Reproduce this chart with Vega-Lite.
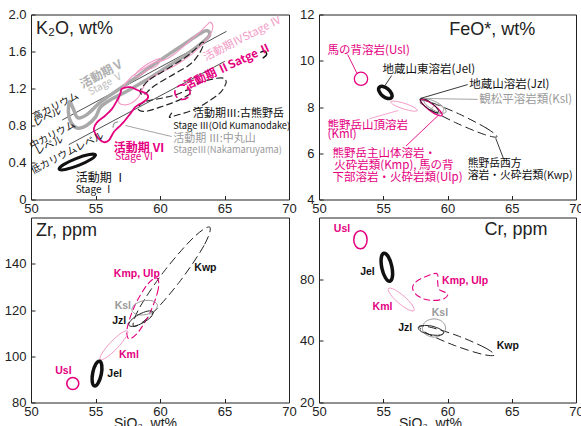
{
"$schema": "https://vega.github.io/schema/vega-lite/v6.json",
"background": "white",
"padding": {"left": 3, "top": 7.5, "right": 0, "bottom": 0},
"config": {
  "view": {"stroke": "#222", "strokeWidth": 1},
  "axis": {"domain": false, "grid": false, "ticks": true, "tickSize": -4, "tickColor": "#222", "tickWidth": 1, "labelFont": "Liberation Sans", "labelFontSize": 13, "labelColor": "#222", "titleFont": "Liberation Sans", "titleFontSize": 14, "titleFontWeight": "normal", "titleColor": "#222"},
  "axisX": {"labelPadding": 7, "labelFlush": false},
  "axisY": {"labelPadding": 9},
  "line": {"strokeCap": "round", "strokeJoin": "round"},
  "text": {"font": "Noto Sans CJK JP"}
},
"columns": 2,
"spacing": {"row": 18, "column": 30},
"bounds": "flush",
"concat": [
{
"width": 258, "height": 185,
"encoding": {
  "x": {"field": "x", "type": "quantitative", "scale": {"domain": [50, 70], "nice": false, "zero": false}, "axis": {"title": null, "values": [50, 55, 60, 65, 70]}},
  "y": {"field": "y", "type": "quantitative", "scale": {"domain": [0, 2], "nice": false, "zero": false}, "axis": {"title": null, "values": [0, 0.4, 0.8, 1.2, 1.6, 2], "labelExpr": "datum.value == 0 ? '0' : format(datum.value, '.1f')"}}
},
"layer": [
{"data": {"values": [{"s":"A","i":0,"x":52.44,"y":0.861},{"s":"A","i":1,"x":65.13,"y":1.816},{"s":"B","i":0,"x":52.95,"y":0.595},{"s":"B","i":1,"x":65.0,"y":1.492}]},
 "mark": {"type": "line", "color": "#222", "strokeWidth": 0.8},
 "encoding": {"detail": {"field": "s", "type": "nominal"}, "order": {"field": "i", "type": "quantitative"}}},
{"data": {"values": [
 {"s":"V","i":0,"x":53.00,"y":1.059},{"s":"V","i":1,"x":53.28,"y":0.980},{"s":"V","i":2,"x":53.64,"y":0.883},{"s":"V","i":3,"x":54.41,"y":0.926},{"s":"V","i":4,"x":55.38,"y":1.052},{"s":"V","i":5,"x":56.67,"y":1.178},{"s":"V","i":6,"x":57.95,"y":1.301},{"s":"V","i":7,"x":59.23,"y":1.431},{"s":"V","i":8,"x":60.51,"y":1.553},{"s":"V","i":9,"x":61.79,"y":1.672},{"s":"V","i":10,"x":63.08,"y":1.791},{"s":"V","i":11,"x":63.64,"y":1.827},{"s":"V","i":12,"x":63.85,"y":1.780},{"s":"V","i":13,"x":63.33,"y":1.701},{"s":"V","i":14,"x":62.05,"y":1.568},{"s":"V","i":15,"x":60.51,"y":1.431},{"s":"V","i":16,"x":58.97,"y":1.294},{"s":"V","i":17,"x":57.44,"y":1.171},{"s":"V","i":18,"x":56.15,"y":1.077},{"s":"V","i":19,"x":55.38,"y":0.998},{"s":"V","i":20,"x":55.00,"y":0.890},{"s":"V","i":21,"x":54.31,"y":0.800},{"s":"V","i":22,"x":53.64,"y":0.771},{"s":"V","i":23,"x":53.13,"y":0.825},{"s":"V","i":24,"x":52.90,"y":0.944}]},
 "mark": {"type": "line", "interpolate": "cardinal-closed", "color": "#a9a9a9", "strokeWidth": 3.5},
 "encoding": {"detail": {"field": "s", "type": "nominal"}, "order": {"field": "i", "type": "quantitative"}}},
{"data": {"values": [
 {"s":"IV1","i":0,"x":56.79,"y":1.063},{"s":"IV1","i":1,"x":57.05,"y":1.196},{"s":"IV1","i":2,"x":57.82,"y":1.330},{"s":"IV1","i":3,"x":58.72,"y":1.413},{"s":"IV1","i":4,"x":59.62,"y":1.485},{"s":"IV1","i":5,"x":60.38,"y":1.510},{"s":"IV1","i":6,"x":61.15,"y":1.575},{"s":"IV1","i":7,"x":62.05,"y":1.683},{"s":"IV1","i":8,"x":63.08,"y":1.809},{"s":"IV1","i":9,"x":63.72,"y":1.899},{"s":"IV1","i":10,"x":63.92,"y":1.917},{"s":"IV1","i":11,"x":64.10,"y":1.863},{"s":"IV1","i":12,"x":63.85,"y":1.773},{"s":"IV1","i":13,"x":63.21,"y":1.665},{"s":"IV1","i":14,"x":62.56,"y":1.582},{"s":"IV1","i":15,"x":61.79,"y":1.503},{"s":"IV1","i":16,"x":61.03,"y":1.438},{"s":"IV1","i":17,"x":60.26,"y":1.387},{"s":"IV1","i":18,"x":59.62,"y":1.341},{"s":"IV1","i":19,"x":59.10,"y":1.294},{"s":"IV1","i":20,"x":58.72,"y":1.214},{"s":"IV1","i":21,"x":58.33,"y":1.106},{"s":"IV1","i":22,"x":57.69,"y":1.034},{"s":"IV1","i":23,"x":57.05,"y":1.027},
 {"s":"IV2","i":0,"x":58.08,"y":1.351},{"s":"IV2","i":1,"x":58.97,"y":1.459},{"s":"IV2","i":2,"x":60.0,"y":1.524},{"s":"IV2","i":3,"x":59.74,"y":1.445},{"s":"IV2","i":4,"x":58.97,"y":1.395},{"s":"IV2","i":5,"x":58.33,"y":1.330}]},
 "mark": {"type": "line", "interpolate": "cardinal-closed", "color": "#f29ac6", "strokeWidth": 1.1},
 "encoding": {"detail": {"field": "s", "type": "nominal"}, "order": {"field": "i", "type": "quantitative"}}},
{"data": {"values": [
 {"s":"IIIa","i":0,"x":58.59,"y":1.207},{"s":"IIIa","i":1,"x":59.23,"y":1.301},{"s":"IIIa","i":2,"x":60.26,"y":1.387},{"s":"IIIa","i":3,"x":61.92,"y":1.532},{"s":"IIIa","i":4,"x":62.82,"y":1.636},{"s":"IIIa","i":5,"x":63.23,"y":1.697},{"s":"IIIa","i":6,"x":63.39,"y":1.683},{"s":"IIIa","i":7,"x":63.03,"y":1.575},{"s":"IIIa","i":8,"x":62.31,"y":1.459},{"s":"IIIa","i":9,"x":60.77,"y":1.330},{"s":"IIIa","i":10,"x":59.49,"y":1.222},{"s":"IIIa","i":11,"x":58.77,"y":1.135},{"s":"IIIa","i":12,"x":58.46,"y":1.160},
 {"s":"IIIb","i":0,"x":58.33,"y":1.005},{"s":"IIIb","i":1,"x":58.97,"y":1.063},{"s":"IIIb","i":2,"x":60.26,"y":1.099},{"s":"IIIb","i":3,"x":61.28,"y":1.135},{"s":"IIIb","i":4,"x":62.18,"y":1.186},{"s":"IIIb","i":5,"x":62.44,"y":1.160},{"s":"IIIb","i":6,"x":61.92,"y":1.106},{"s":"IIIb","i":7,"x":61.03,"y":1.049},{"s":"IIIb","i":8,"x":60.0,"y":0.998},{"s":"IIIb","i":9,"x":58.97,"y":0.955},{"s":"IIIb","i":10,"x":58.41,"y":0.962}]},
 "mark": {"type": "line", "interpolate": "cardinal-closed", "color": "#222", "strokeWidth": 1.2, "strokeDash": [6, 4]},
 "encoding": {"detail": {"field": "s", "type": "nominal"}, "order": {"field": "i", "type": "quantitative"}}},
{"data": {"values": [
 {"s":"IIIc","i":0,"x":60.90,"y":0.933},{"s":"IIIc","i":1,"x":60.72,"y":0.890},{"s":"IIIc","i":2,"x":61.15,"y":0.905},{"s":"IIIc","i":3,"x":62.82,"y":0.984},{"s":"IIIc","i":4,"x":64.49,"y":1.132},{"s":"IIIc","i":5,"x":65.0,"y":1.222},{"s":"IIIc","i":6,"x":65.13,"y":1.279},{"s":"IIIc","i":7,"x":64.74,"y":1.315},{"s":"IIIc","i":8,"x":63.59,"y":1.286},{"s":"IIIc","i":9,"x":62.69,"y":1.243}]},
 "mark": {"type": "line", "interpolate": "cardinal", "color": "#222", "strokeWidth": 1.2, "strokeDash": [6, 4]},
 "encoding": {"detail": {"field": "s", "type": "nominal"}, "order": {"field": "i", "type": "quantitative"}}},
{"data": {"values": [
 {"s":"II","i":0,"x":62.33,"y":1.160},{"s":"II","i":1,"x":62.157,"y":1.104},{"s":"II","i":2,"x":61.74,"y":1.081},{"s":"II","i":3,"x":61.323,"y":1.104},{"s":"II","i":4,"x":61.15,"y":1.160},{"s":"II","i":5,"x":61.323,"y":1.216},{"s":"II","i":6,"x":61.74,"y":1.239},{"s":"II","i":7,"x":62.157,"y":1.216}]},
 "mark": {"type": "line", "interpolate": "cardinal-closed", "color": "#e4007f", "strokeWidth": 1.6, "strokeDash": [7, 5]},
 "encoding": {"detail": {"field": "s", "type": "nominal"}, "order": {"field": "i", "type": "quantitative"}}},
{"data": {"values": [
 {"s":"VI","i":0,"x":57.05,"y":1.196},{"s":"VI","i":1,"x":57.69,"y":1.214},{"s":"VI","i":2,"x":58.33,"y":1.178},{"s":"VI","i":3,"x":58.97,"y":1.142},{"s":"VI","i":4,"x":59.03,"y":1.088},{"s":"VI","i":5,"x":58.46,"y":1.034},{"s":"VI","i":6,"x":58.08,"y":0.998},{"s":"VI","i":7,"x":57.69,"y":0.926},{"s":"VI","i":8,"x":57.18,"y":0.836},{"s":"VI","i":9,"x":56.79,"y":0.782},{"s":"VI","i":10,"x":56.41,"y":0.728},{"s":"VI","i":11,"x":56.03,"y":0.638},{"s":"VI","i":12,"x":55.64,"y":0.620},{"s":"VI","i":13,"x":55.26,"y":0.656},{"s":"VI","i":14,"x":55.00,"y":0.710},{"s":"VI","i":15,"x":54.87,"y":0.764},{"s":"VI","i":16,"x":55.13,"y":0.836},{"s":"VI","i":17,"x":55.77,"y":0.908},{"s":"VI","i":18,"x":56.28,"y":0.980},{"s":"VI","i":19,"x":56.67,"y":1.070},{"s":"VI","i":20,"x":56.92,"y":1.142}]},
 "mark": {"type": "line", "interpolate": "cardinal-closed", "color": "#e4007f", "strokeWidth": 1.8},
 "encoding": {"detail": {"field": "s", "type": "nominal"}, "order": {"field": "i", "type": "quantitative"}}},
{"data": {"values": [
 {"s":"I","i":0,"x":55.00,"y":0.483},{"s":"I","i":1,"x":54.66,"y":0.434},{"s":"I","i":2,"x":53.69,"y":0.368},{"s":"I","i":3,"x":52.66,"y":0.324},{"s":"I","i":4,"x":52.18,"y":0.328},{"s":"I","i":5,"x":52.52,"y":0.377},{"s":"I","i":6,"x":53.49,"y":0.443},{"s":"I","i":7,"x":54.52,"y":0.486}]},
 "mark": {"type": "line", "interpolate": "cardinal-closed", "color": "#111", "strokeWidth": 3},
 "encoding": {"detail": {"field": "s", "type": "nominal"}, "order": {"field": "i", "type": "quantitative"}}},
{"data": {"values": [
 {"s":"arc","i":0,"x":56.36,"y":0.782},{"s":"arc","i":1,"x":56.46,"y":0.825},{"s":"arc","i":2,"x":56.72,"y":0.840}]},
 "mark": {"type": "line", "interpolate": "cardinal", "color": "#9a9a9a", "strokeWidth": 1.3},
 "encoding": {"detail": {"field": "s", "type": "nominal"}, "order": {"field": "i", "type": "quantitative"}}},
{"data": {"values": [
 {"s":"tsu","i":0,"x":67.82,"y":1.593},{"s":"tsu","i":1,"x":68.15,"y":1.604},{"s":"tsu","i":2,"x":68.26,"y":1.564},{"s":"tsu","i":3,"x":68.0,"y":1.532}]},
 "mark": {"type": "line", "interpolate": "cardinal", "color": "#111", "strokeWidth": 1.5},
 "encoding": {"detail": {"field": "s", "type": "nominal"}, "order": {"field": "i", "type": "quantitative"}}},
{"data": {"values": [{"x":57.31,"y":0.80,"x2":60.90,"y2":0.681}]},
 "mark": {"type": "rule", "color": "#9a9a9a", "strokeWidth": 0.9},
 "encoding": {"x2": {"field": "x2"}, "y2": {"field": "y2"}}},
{"data": {"values": [{"t":"活動期 Ⅰ","x":53.46,"y":0.234}]},
 "mark": {"type": "text", "align": "left", "baseline": "middle", "fontSize": 12, "color": "#111"},
 "encoding": {"text": {"field": "t", "type": "nominal"}}},
{"data": {"values": [{"t":"Stage Ⅰ","x":53.46,"y":0.108}]},
 "mark": {"type": "text", "align": "left", "baseline": "middle", "fontSize": 10, "color": "#111"},
 "encoding": {"text": {"field": "t", "type": "nominal"}}},
{"data": {"values": [{"t":"Stage Ⅲ(Old Kumanodake)","x":61.03,"y":0.80}]},
 "mark": {"type": "text", "align": "left", "baseline": "middle", "fontSize": 9.3, "color": "#111"},
 "encoding": {"text": {"field": "t", "type": "nominal"}}},
{"data": {"values": [{"t":"活動期Ⅲ:古熊野岳","x":62.56,"y":0.919}]},
 "mark": {"type": "text", "align": "left", "baseline": "middle", "fontSize": 11, "color": "#111"},
 "encoding": {"text": {"field": "t", "type": "nominal"}}},
{"data": {"values": [{"t":"活動期 Ⅲ:中丸山","x":61.03,"y":0.649}]},
 "mark": {"type": "text", "align": "left", "baseline": "middle", "fontSize": 11, "color": "#9a9a9a"},
 "encoding": {"text": {"field": "t", "type": "nominal"}}},
{"data": {"values": [{"t":"StageⅢ(Nakamaruyama)","x":61.03,"y":0.530}]},
 "mark": {"type": "text", "align": "left", "baseline": "middle", "fontSize": 9.3, "color": "#9a9a9a"},
 "encoding": {"text": {"field": "t", "type": "nominal"}}},
{"data": {"values": [{"t":"活動期 Ⅵ","x":56.41,"y":0.559}]},
 "mark": {"type": "text", "align": "left", "baseline": "middle", "fontSize": 12, "fontWeight": "bold", "color": "#e4007f"},
 "encoding": {"text": {"field": "t", "type": "nominal"}}},
{"data": {"values": [{"t":"Stage Ⅵ","x":56.54,"y":0.458}]},
 "mark": {"type": "text", "align": "left", "baseline": "middle", "fontSize": 10, "color": "#e4007f"},
 "encoding": {"text": {"field": "t", "type": "nominal"}}},
{"data": {"values": [{"t":"高カリウム","x":51.92,"y":1.005},{"t":"レベル","x":51.28,"y":0.890},{"t":"中カリウム","x":51.67,"y":0.692},{"t":"レベル","x":51.41,"y":0.584},{"t":"低カリウムレベル","x":52.82,"y":0.501}]},
 "mark": {"type": "text", "align": "center", "baseline": "middle", "fontSize": 10, "angle": -27, "color": "#111"},
 "encoding": {"text": {"field": "t", "type": "nominal"}}},
{"data": {"values": [{"t":"活動期Ⅴ","x":55.5,"y":1.36}]},
 "mark": {"type": "text", "align": "center", "baseline": "middle", "fontSize": 12, "fontWeight": "bold", "angle": -28, "color": "#b0b0b0"},
 "encoding": {"text": {"field": "t", "type": "nominal"}}},
{"data": {"values": [{"t":"Stage Ⅴ","x":55.8,"y":1.25}]},
 "mark": {"type": "text", "align": "center", "baseline": "middle", "fontSize": 10, "angle": -28, "color": "#bdbdbd"},
 "encoding": {"text": {"field": "t", "type": "nominal"}}},
{"data": {"values": [{"t":"活動期ⅣStage Ⅳ","x":66.41,"y":1.737}]},
 "mark": {"type": "text", "align": "center", "baseline": "middle", "fontSize": 11, "angle": -27, "color": "#f29ac6"},
 "encoding": {"text": {"field": "t", "type": "nominal"}}},
{"data": {"values": [{"t":"活動期 ⅡSatge Ⅱ","x":65.26,"y":1.431}]},
 "mark": {"type": "text", "align": "center", "baseline": "middle", "fontSize": 11.5, "fontWeight": "bold", "angle": -25, "color": "#e4007f"},
 "encoding": {"text": {"field": "t", "type": "nominal"}}},
{"data": {"values": [{"t":"K₂O, wt%","x":50.38,"y":1.791}]},
 "mark": {"type": "text", "align": "left", "baseline": "alphabetic", "font": "Liberation Sans", "fontSize": 18, "color": "#222"},
 "encoding": {"text": {"field": "t", "type": "nominal"}}}
]
},
{
"width": 257, "height": 185,
"encoding": {
  "x": {"field": "x", "type": "quantitative", "scale": {"domain": [50, 70], "nice": false, "zero": false}, "axis": {"title": null, "values": [50, 55, 60, 65, 70]}},
  "y": {"field": "y", "type": "quantitative", "scale": {"domain": [4, 12], "nice": false, "zero": false}, "axis": {"title": null, "values": [4, 6, 8, 10, 12]}}
},
"layer": [
{"data": {"values": [
 {"s":"Kwp","i":0,"x":63.852,"y":6.712},{"s":"Kwp","i":1,"x":63.064,"y":7.073},{"s":"Kwp","i":2,"x":60.944,"y":7.687},{"s":"Kwp","i":3,"x":58.734,"y":8.195},{"s":"Kwp","i":4,"x":57.730,"y":8.297},{"s":"Kwp","i":5,"x":58.519,"y":7.935},{"s":"Kwp","i":6,"x":60.638,"y":7.321},{"s":"Kwp","i":7,"x":62.848,"y":6.814}]},
 "mark": {"type": "line", "interpolate": "cardinal-closed", "color": "#222", "strokeWidth": 1, "strokeDash": [8, 5]},
 "encoding": {"detail": {"field": "s", "type": "nominal"}, "order": {"field": "i", "type": "quantitative"}}},
{"data": {"values": [
 {"s":"Kml","i":0,"x":57.652,"y":7.850},{"s":"Kml","i":1,"x":57.396,"y":7.987},{"s":"Kml","i":2,"x":56.682,"y":8.153},{"s":"Kml","i":3,"x":55.930,"y":8.251},{"s":"Kml","i":4,"x":55.577,"y":8.225},{"s":"Kml","i":5,"x":55.834,"y":8.088},{"s":"Kml","i":6,"x":56.547,"y":7.922},{"s":"Kml","i":7,"x":57.300,"y":7.824}]},
 "mark": {"type": "line", "interpolate": "cardinal-closed", "color": "#f29ac6", "strokeWidth": 1},
 "encoding": {"detail": {"field": "s", "type": "nominal"}, "order": {"field": "i", "type": "quantitative"}}},
{"data": {"values": [
 {"s":"Ksl1","i":0,"x":59.883,"y":7.778},{"s":"Ksl1","i":1,"x":59.743,"y":7.967},{"s":"Ksl1","i":2,"x":59.183,"y":8.196},{"s":"Ksl1","i":3,"x":58.532,"y":8.333},{"s":"Ksl1","i":4,"x":58.171,"y":8.297},{"s":"Ksl1","i":5,"x":58.311,"y":8.108},{"s":"Ksl1","i":6,"x":58.872,"y":7.879},{"s":"Ksl1","i":7,"x":59.523,"y":7.742},
 {"s":"Ksl2","i":0,"x":59.702,"y":7.893},{"s":"Ksl2","i":1,"x":59.564,"y":7.751},{"s":"Ksl2","i":2,"x":59.235,"y":7.692},{"s":"Ksl2","i":3,"x":58.905,"y":7.751},{"s":"Ksl2","i":4,"x":58.768,"y":7.893},{"s":"Ksl2","i":5,"x":58.905,"y":8.036},{"s":"Ksl2","i":6,"x":59.235,"y":8.095},{"s":"Ksl2","i":7,"x":59.564,"y":8.036}]},
 "mark": {"type": "line", "interpolate": "cardinal-closed", "color": "#9a9a9a", "strokeWidth": 1},
 "encoding": {"detail": {"field": "s", "type": "nominal"}, "order": {"field": "i", "type": "quantitative"}}},
{"data": {"values": [
 {"s":"Kmp","i":0,"x":59.572,"y":7.634},{"s":"Kmp","i":1,"x":59.440,"y":7.817},{"s":"Kmp","i":2,"x":58.898,"y":8.095},{"s":"Kmp","i":3,"x":58.265,"y":8.305},{"s":"Kmp","i":4,"x":57.912,"y":8.326},{"s":"Kmp","i":5,"x":58.044,"y":8.143},{"s":"Kmp","i":6,"x":58.586,"y":7.865},{"s":"Kmp","i":7,"x":59.219,"y":7.654},
 {"s":"Usl","i":0,"x":53.787,"y":9.219},{"s":"Usl","i":1,"x":53.635,"y":9.015},{"s":"Usl","i":2,"x":53.268,"y":8.931},{"s":"Usl","i":3,"x":52.901,"y":9.015},{"s":"Usl","i":4,"x":52.749,"y":9.219},{"s":"Usl","i":5,"x":52.901,"y":9.423},{"s":"Usl","i":6,"x":53.268,"y":9.507},{"s":"Usl","i":7,"x":53.635,"y":9.423}]},
 "mark": {"type": "line", "interpolate": "cardinal-closed", "color": "#e4007f", "strokeWidth": 1.3},
 "encoding": {"detail": {"field": "s", "type": "nominal"}, "order": {"field": "i", "type": "quantitative"}}},
{"data": {"values": [
 {"s":"Jzl","i":0,"x":59.287,"y":7.778},{"s":"Jzl","i":1,"x":59.191,"y":7.944},{"s":"Jzl","i":2,"x":58.742,"y":8.184},{"s":"Jzl","i":3,"x":58.202,"y":8.352},{"s":"Jzl","i":4,"x":57.886,"y":8.354},{"s":"Jzl","i":5,"x":57.982,"y":8.189},{"s":"Jzl","i":6,"x":58.431,"y":7.951},{"s":"Jzl","i":7,"x":58.970,"y":7.781}]},
 "mark": {"type": "line", "interpolate": "cardinal-closed", "color": "#222", "strokeWidth": 1},
 "encoding": {"detail": {"field": "s", "type": "nominal"}, "order": {"field": "i", "type": "quantitative"}}},
{"data": {"values": [
 {"s":"Jel","i":0,"x":55.642,"y":8.406},{"s":"Jel","i":1,"x":55.652,"y":8.573},{"s":"Jel","i":2,"x":55.377,"y":8.772},{"s":"Jel","i":3,"x":54.975,"y":8.888},{"s":"Jel","i":4,"x":54.682,"y":8.850},{"s":"Jel","i":5,"x":54.672,"y":8.683},{"s":"Jel","i":6,"x":54.947,"y":8.484},{"s":"Jel","i":7,"x":55.349,"y":8.369}]},
 "mark": {"type": "line", "interpolate": "cardinal-closed", "color": "#111", "strokeWidth": 3.5},
 "encoding": {"detail": {"field": "s", "type": "nominal"}, "order": {"field": "i", "type": "quantitative"}}},
{"data": {"values": [{"x":55.65,"y":9.36,"x2":55.14,"y2":8.93},{"x":57.89,"y":8.37,"x2":61.57,"y2":8.97},{"x":63.75,"y":6.65,"x2":64.35,"y2":5.78}]},
 "mark": {"type": "rule", "color": "#222", "strokeWidth": 0.9},
 "encoding": {"x2": {"field": "x2"}, "y2": {"field": "y2"}}},
{"data": {"values": [{"x":58.07,"y":8.37,"x2":62.35,"y2":8.33}]},
 "mark": {"type": "rule", "color": "#9a9a9a", "strokeWidth": 0.9},
 "encoding": {"x2": {"field": "x2"}, "y2": {"field": "y2"}}},
{"data": {"values": [{"x":52.23,"y":10.27,"x2":52.96,"y2":9.45},{"x":56.77,"y":6.31,"x2":59.36,"y2":7.68}]},
 "mark": {"type": "rule", "color": "#e4007f", "strokeWidth": 0.9},
 "encoding": {"x2": {"field": "x2"}, "y2": {"field": "y2"}}},
{"data": {"values": [{"x":53.92,"y":7.49,"x2":56.17,"y2":7.85}]},
 "mark": {"type": "rule", "color": "#f29ac6", "strokeWidth": 0.9},
 "encoding": {"x2": {"field": "x2"}, "y2": {"field": "y2"}}},
{"data": {"values": [{"t":"馬の背溶岩(Usl)","x":50.67,"y":10.44},{"t":"熊野岳山頂溶岩","x":50.67,"y":7.17},{"t":"(Kml)","x":50.67,"y":6.77},{"t":"熊野岳主山体溶岩・","x":51.06,"y":5.95},{"t":"火砕岩類(Kmp), 馬の背","x":51.19,"y":5.44},{"t":"下部溶岩・火砕岩類(Ulp)","x":51.06,"y":4.94}]},
 "mark": {"type": "text", "align": "left", "baseline": "middle", "fontSize": 11.5, "color": "#e4007f"},
 "encoding": {"text": {"field": "t", "type": "nominal"}}},
{"data": {"values": [{"t":"地蔵山東溶岩(Jel)","x":54.95,"y":9.59},{"t":"地蔵山溶岩(Jzl)","x":61.70,"y":8.97}]},
 "mark": {"type": "text", "align": "left", "baseline": "middle", "fontSize": 11.5, "color": "#111"},
 "encoding": {"text": {"field": "t", "type": "nominal"}}},
{"data": {"values": [{"t":"熊野岳西方","x":61.57,"y":5.52},{"t":"溶岩・火砕岩類(Kwp)","x":61.57,"y":5.01}]},
 "mark": {"type": "text", "align": "left", "baseline": "middle", "fontSize": 10.8, "color": "#111"},
 "encoding": {"text": {"field": "t", "type": "nominal"}}},
{"data": {"values": [{"t":"観松平溶岩類(Ksl)","x":62.48,"y":8.30}]},
 "mark": {"type": "text", "align": "left", "baseline": "middle", "fontSize": 11.5, "color": "#9a9a9a"},
 "encoding": {"text": {"field": "t", "type": "nominal"}}},
{"data": {"values": [{"t":"FeO*, wt%","x":60.14,"y":11.135}]},
 "mark": {"type": "text", "align": "left", "baseline": "alphabetic", "font": "Liberation Sans", "fontSize": 18, "color": "#222"},
 "encoding": {"text": {"field": "t", "type": "nominal"}}}
]
},
{
"width": 258, "height": 185,
"encoding": {
  "x": {"field": "x", "type": "quantitative", "scale": {"domain": [50, 70], "nice": false, "zero": false}, "axis": {"title": "SiO₂, wt%", "values": [50, 55, 60, 65, 70], "titleX": 114, "titleY": 14, "titleBaseline": "top", "titleAlign": "center"}},
  "y": {"field": "y", "type": "quantitative", "scale": {"domain": [80, 160], "nice": false, "zero": false}, "axis": {"title": null, "values": [80, 100, 120, 140]}}
},
"layer": [
{"data": {"values": [
 {"s":"Kwp","i":0,"x":63.860,"y":155.83},{"s":"Kwp","i":1,"x":63.402,"y":147.81},{"s":"Kwp","i":2,"x":61.482,"y":131.94},{"s":"Kwp","i":3,"x":59.225,"y":117.50},{"s":"Kwp","i":4,"x":57.953,"y":112.95},{"s":"Kwp","i":5,"x":58.412,"y":120.96},{"s":"Kwp","i":6,"x":60.332,"y":136.83},{"s":"Kwp","i":7,"x":62.588,"y":151.28}]},
 "mark": {"type": "line", "interpolate": "cardinal-closed", "color": "#222", "strokeWidth": 1, "strokeDash": [8, 5]},
 "encoding": {"detail": {"field": "s", "type": "nominal"}, "order": {"field": "i", "type": "quantitative"}}},
{"data": {"values": [
 {"s":"Kmp","i":0,"x":59.767,"y":133.81},{"s":"Kmp","i":1,"x":59.860,"y":128.89},{"s":"Kmp","i":2,"x":59.254,"y":119.19},{"s":"Kmp","i":3,"x":58.303,"y":110.39},{"s":"Kmp","i":4,"x":57.565,"y":107.63},{"s":"Kmp","i":5,"x":57.472,"y":112.55},{"s":"Kmp","i":6,"x":58.078,"y":122.24},{"s":"Kmp","i":7,"x":59.028,"y":131.05}]},
 "mark": {"type": "line", "interpolate": "cardinal-closed", "color": "#e4007f", "strokeWidth": 1.1, "strokeDash": [6, 4]},
 "encoding": {"detail": {"field": "s", "type": "nominal"}, "order": {"field": "i", "type": "quantitative"}}},
{"data": {"values": [
 {"s":"Kml","i":0,"x":57.487,"y":110.94},{"s":"Kml","i":1,"x":57.347,"y":108.20},{"s":"Kml","i":2,"x":56.668,"y":103.45},{"s":"Kml","i":3,"x":55.847,"y":99.45},{"s":"Kml","i":4,"x":55.363,"y":98.56},{"s":"Kml","i":5,"x":55.503,"y":101.29},{"s":"Kml","i":6,"x":56.181,"y":106.04},{"s":"Kml","i":7,"x":57.003,"y":110.04}]},
 "mark": {"type": "line", "interpolate": "cardinal-closed", "color": "#f29ac6", "strokeWidth": 1},
 "encoding": {"detail": {"field": "s", "type": "nominal"}, "order": {"field": "i", "type": "quantitative"}}},
{"data": {"values": [
 {"s":"Ksl","i":0,"x":59.793,"y":122.16},{"s":"Ksl","i":1,"x":59.583,"y":119.73},{"s":"Ksl","i":2,"x":58.920,"y":118.04},{"s":"Ksl","i":3,"x":58.192,"y":118.10},{"s":"Ksl","i":4,"x":57.824,"y":119.86},{"s":"Ksl","i":5,"x":58.034,"y":122.29},{"s":"Ksl","i":6,"x":58.697,"y":123.97},{"s":"Ksl","i":7,"x":59.425,"y":123.91}]},
 "mark": {"type": "line", "interpolate": "cardinal-closed", "color": "#9a9a9a", "strokeWidth": 1},
 "encoding": {"detail": {"field": "s", "type": "nominal"}, "order": {"field": "i", "type": "quantitative"}}},
{"data": {"values": [
 {"s":"Jzl","i":0,"x":59.456,"y":119.14},{"s":"Jzl","i":1,"x":59.308,"y":117.05},{"s":"Jzl","i":2,"x":58.699,"y":114.50},{"s":"Jzl","i":3,"x":57.990,"y":112.98},{"s":"Jzl","i":4,"x":57.591,"y":113.38},{"s":"Jzl","i":5,"x":57.738,"y":115.47},{"s":"Jzl","i":6,"x":58.347,"y":118.01},{"s":"Jzl","i":7,"x":59.057,"y":119.54}]},
 "mark": {"type": "line", "interpolate": "cardinal-closed", "color": "#222", "strokeWidth": 1},
 "encoding": {"detail": {"field": "s", "type": "nominal"}, "order": {"field": "i", "type": "quantitative"}}},
{"data": {"values": [
 {"s":"Usl","i":0,"x":53.704,"y":88.20},{"s":"Usl","i":1,"x":53.568,"y":86.37},{"s":"Usl","i":2,"x":53.238,"y":85.61},{"s":"Usl","i":3,"x":52.908,"y":86.37},{"s":"Usl","i":4,"x":52.772,"y":88.20},{"s":"Usl","i":5,"x":52.908,"y":90.03},{"s":"Usl","i":6,"x":53.238,"y":90.79},{"s":"Usl","i":7,"x":53.568,"y":90.03}]},
 "mark": {"type": "line", "interpolate": "cardinal-closed", "color": "#e4007f", "strokeWidth": 1.6},
 "encoding": {"detail": {"field": "s", "type": "nominal"}, "order": {"field": "i", "type": "quantitative"}}},
{"data": {"values": [
 {"s":"Jel","i":0,"x":55.311,"y":97.84},{"s":"Jel","i":1,"x":55.487,"y":96.01},{"s":"Jel","i":2,"x":55.446,"y":92.14},{"s":"Jel","i":3,"x":55.212,"y":88.49},{"s":"Jel","i":4,"x":54.922,"y":87.19},{"s":"Jel","i":5,"x":54.746,"y":89.02},{"s":"Jel","i":6,"x":54.788,"y":92.89},{"s":"Jel","i":7,"x":55.021,"y":96.55}]},
 "mark": {"type": "line", "interpolate": "cardinal-closed", "color": "#111", "strokeWidth": 3.5},
 "encoding": {"detail": {"field": "s", "type": "nominal"}, "order": {"field": "i", "type": "quantitative"}}},
{"data": {"values": [{"t":"Kwp","x":63.52,"y":138.3},{"t":"Jzl","x":56.84,"y":115.4},{"t":"Jel","x":56.48,"y":92.4}]},
 "mark": {"type": "text", "align": "center", "baseline": "middle", "font": "Liberation Sans", "fontSize": 10.5, "fontWeight": "bold", "color": "#111"},
 "encoding": {"text": {"field": "t", "type": "nominal"}}},
{"data": {"values": [{"t":"Kmp, Ulp","x":58.21,"y":135.5},{"t":"Kml","x":57.59,"y":100.7},{"t":"Usl","x":52.51,"y":93.8}]},
 "mark": {"type": "text", "align": "center", "baseline": "middle", "font": "Liberation Sans", "fontSize": 10.5, "fontWeight": "bold", "color": "#e4007f"},
 "encoding": {"text": {"field": "t", "type": "nominal"}}},
{"data": {"values": [{"t":"Ksl","x":57.12,"y":121.7}]},
 "mark": {"type": "text", "align": "center", "baseline": "middle", "font": "Liberation Sans", "fontSize": 10.5, "fontWeight": "bold", "color": "#9a9a9a"},
 "encoding": {"text": {"field": "t", "type": "nominal"}}},
{"data": {"values": [{"t":"Zr, ppm","x":50.39,"y":151.8}]},
 "mark": {"type": "text", "align": "left", "baseline": "alphabetic", "font": "Liberation Sans", "fontSize": 18, "color": "#222"},
 "encoding": {"text": {"field": "t", "type": "nominal"}}}
]
},
{
"width": 257, "height": 185,
"encoding": {
  "x": {"field": "x", "type": "quantitative", "scale": {"domain": [50, 70], "nice": false, "zero": false}, "axis": {"title": "SiO₂, wt%", "values": [50, 55, 60, 65, 70], "titleX": 111, "titleY": 14, "titleBaseline": "top", "titleAlign": "center"}},
  "y": {"field": "y", "type": "quantitative", "scale": {"type": "log", "domain": [20, 160], "nice": false}, "axis": {"title": null, "values": [20, 40, 80]}}
},
"layer": [
{"data": {"values": [
 {"s":"Kwp","i":0,"x":63.654,"y":34.1},{"s":"Kwp","i":1,"x":62.890,"y":37.1},{"s":"Kwp","i":2,"x":60.850,"y":42.2},{"s":"Kwp","i":3,"x":58.733,"y":46.5},{"s":"Kwp","i":4,"x":57.776,"y":46.9},{"s":"Kwp","i":5,"x":58.541,"y":43.1},{"s":"Kwp","i":6,"x":60.580,"y":37.9},{"s":"Kwp","i":7,"x":62.697,"y":34.4}]},
 "mark": {"type": "line", "interpolate": "cardinal-closed", "color": "#222", "strokeWidth": 1, "strokeDash": [8, 5]},
 "encoding": {"detail": {"field": "s", "type": "nominal"}, "order": {"field": "i", "type": "quantitative"}}},
{"data": {"values": [
 {"s":"Kmp","i":0,"x":57.282,"y":72.8},{"s":"Kmp","i":1,"x":57.542,"y":77.6},{"s":"Kmp","i":2,"x":58.114,"y":81.5},{"s":"Kmp","i":3,"x":59.155,"y":85.3},{"s":"Kmp","i":4,"x":59.233,"y":77.6},{"s":"Kmp","i":5,"x":59.363,"y":71.1},{"s":"Kmp","i":6,"x":60.013,"y":68.0},{"s":"Kmp","i":7,"x":59.727,"y":64.2},{"s":"Kmp","i":8,"x":58.895,"y":63.0},{"s":"Kmp","i":9,"x":58.114,"y":64.2},{"s":"Kmp","i":10,"x":57.490,"y":68.0}]},
 "mark": {"type": "line", "interpolate": "cardinal-closed", "color": "#e4007f", "strokeWidth": 1.1, "strokeDash": [6, 4]},
 "encoding": {"detail": {"field": "s", "type": "nominal"}, "order": {"field": "i", "type": "quantitative"}}},
{"data": {"values": [
 {"s":"Kml","i":0,"x":57.386,"y":56.2},{"s":"Kml","i":1,"x":57.251,"y":59.9},{"s":"Kml","i":2,"x":56.619,"y":66.0},{"s":"Kml","i":3,"x":55.854,"y":71.3},{"s":"Kml","i":4,"x":55.410,"y":72.0},{"s":"Kml","i":5,"x":55.545,"y":67.6},{"s":"Kml","i":6,"x":56.177,"y":61.3},{"s":"Kml","i":7,"x":56.942,"y":56.8}]},
 "mark": {"type": "line", "interpolate": "cardinal-closed", "color": "#f29ac6", "strokeWidth": 1},
 "encoding": {"detail": {"field": "s", "type": "nominal"}, "order": {"field": "i", "type": "quantitative"}}},
{"data": {"values": [
 {"s":"Ksl","i":0,"x":59.857,"y":46.2},{"s":"Ksl","i":1,"x":59.589,"y":43.0},{"s":"Ksl","i":2,"x":58.947,"y":41.7},{"s":"Ksl","i":3,"x":58.304,"y":43.0},{"s":"Ksl","i":4,"x":58.036,"y":46.2},{"s":"Ksl","i":5,"x":58.304,"y":49.7},{"s":"Ksl","i":6,"x":58.947,"y":51.2},{"s":"Ksl","i":7,"x":59.589,"y":49.7}]},
 "mark": {"type": "line", "interpolate": "cardinal-closed", "color": "#9a9a9a", "strokeWidth": 1},
 "encoding": {"detail": {"field": "s", "type": "nominal"}, "order": {"field": "i", "type": "quantitative"}}},
{"data": {"values": [
 {"s":"Jzl","i":0,"x":59.701,"y":43.6},{"s":"Jzl","i":1,"x":59.363,"y":42.6},{"s":"Jzl","i":2,"x":58.642,"y":42.9},{"s":"Jzl","i":3,"x":57.964,"y":44.4},{"s":"Jzl","i":4,"x":57.724,"y":46.4},{"s":"Jzl","i":5,"x":58.062,"y":47.5},{"s":"Jzl","i":6,"x":58.783,"y":47.2},{"s":"Jzl","i":7,"x":59.462,"y":45.5}]},
 "mark": {"type": "line", "interpolate": "cardinal-closed", "color": "#222", "strokeWidth": 1},
 "encoding": {"detail": {"field": "s", "type": "nominal"}, "order": {"field": "i", "type": "quantitative"}}},
{"data": {"values": [
 {"s":"Usl","i":0,"x":53.745,"y":124.6},{"s":"Usl","i":1,"x":53.592,"y":115.9},{"s":"Usl","i":2,"x":53.225,"y":112.5},{"s":"Usl","i":3,"x":52.858,"y":115.9},{"s":"Usl","i":4,"x":52.705,"y":124.6},{"s":"Usl","i":5,"x":52.858,"y":134.0},{"s":"Usl","i":6,"x":53.225,"y":138.0},{"s":"Usl","i":7,"x":53.592,"y":134.0}]},
 "mark": {"type": "line", "interpolate": "cardinal-closed", "color": "#e4007f", "strokeWidth": 1.5},
 "encoding": {"detail": {"field": "s", "type": "nominal"}, "order": {"field": "i", "type": "quantitative"}}},
{"data": {"values": [
 {"s":"Jel","i":0,"x":55.046,"y":107.1},{"s":"Jel","i":1,"x":55.384,"y":103.2},{"s":"Jel","i":2,"x":55.662,"y":92.6},{"s":"Jel","i":3,"x":55.717,"y":82.6},{"s":"Jel","i":4,"x":55.514,"y":78.2},{"s":"Jel","i":5,"x":55.176,"y":81.2},{"s":"Jel","i":6,"x":54.897,"y":90.4},{"s":"Jel","i":7,"x":54.843,"y":101.4}]},
 "mark": {"type": "line", "interpolate": "cardinal-closed", "color": "#111", "strokeWidth": 3.5},
 "encoding": {"detail": {"field": "s", "type": "nominal"}, "order": {"field": "i", "type": "quantitative"}}},
{"data": {"values": [{"t":"Jel","x":53.77,"y":86.9},{"t":"Jzl","x":56.71,"y":46.0},{"t":"Kwp","x":64.69,"y":37.9}]},
 "mark": {"type": "text", "align": "center", "baseline": "middle", "font": "Liberation Sans", "fontSize": 10.5, "fontWeight": "bold", "color": "#111"},
 "encoding": {"text": {"field": "t", "type": "nominal"}}},
{"data": {"values": [{"t":"Usl","x":51.79,"y":140.2},{"t":"Kmp, Ulp","x":61.37,"y":78.8},{"t":"Kml","x":54.94,"y":58.2}]},
 "mark": {"type": "text", "align": "center", "baseline": "middle", "font": "Liberation Sans", "fontSize": 10.5, "fontWeight": "bold", "color": "#e4007f"},
 "encoding": {"text": {"field": "t", "type": "nominal"}}},
{"data": {"values": [{"t":"Ksl","x":59.41,"y":55.0}]},
 "mark": {"type": "text", "align": "center", "baseline": "middle", "font": "Liberation Sans", "fontSize": 10.5, "fontWeight": "bold", "color": "#9a9a9a"},
 "encoding": {"text": {"field": "t", "type": "nominal"}}},
{"data": {"values": [{"t":"Cr, ppm","x":62.87,"y":130.9}]},
 "mark": {"type": "text", "align": "left", "baseline": "alphabetic", "font": "Liberation Sans", "fontSize": 18, "color": "#222"},
 "encoding": {"text": {"field": "t", "type": "nominal"}}}
]
}
]
}
